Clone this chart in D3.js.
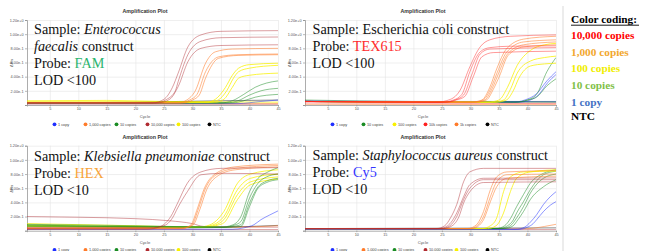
<!DOCTYPE html>
<html>
<head>
<meta charset="utf-8">
<script src="https://cdn.jsdelivr.net/npm/d3@7/dist/d3.min.js"></script>
<style>
  body { margin: 0; background: #fff; }
  svg { display: block; }
</style>
</head>
<body>
<div id="chart"></div>
<script>
// tick values and labels
var cycleTicks = [5, 10, 15, 20, 25, 30, 35, 40, 45];
var rnTicks = [0, 0.2, 0.4, 0.6, 0.8, 1.0, 1.2];
var rnLabels = ["", "2.00e-1", "4.00e-1", "6.00e-1", "8.00e-1", "1.00e+0", "1.20e+0"];

// panel texts
var speciesNames = ["Enterococcus faecalis", "Escherichia coli", "Klebsiella pneumoniae", "Staphylococcus aureus"];
var probes = ["FAM", "TEX615", "HEX", "Cy5"];
var lods = ["<100", "<100", "<10", "<10"];

// legends under each plot
var defaultLegend = [["c1", "1 copy"], ["c1k", "1,000 copies"], ["c10", "10 copies"], ["c10k", "10,000 copies"], ["c100", "100 copies"], ["ntc", "NTC"]];
var ecoliLegend = [["c1", "1 copy"], ["c10", "10 copies"], ["c100", "100 copies"], ["c10k", "10k copies"], ["c1k", "1k copies"], ["ntc", "NTC"]];
var codingLabels = ["10,000 copies", "1,000 copies", "100 copies", "10 copies", "1 copy", "NTC"];

// amplification curves: [cycle, Rn] points
var efaecalisCurves = [
  {g: "c10k", p: [[1,.015],[45,.01]]},
  {g: "c1k", p: [[1,.02],[45,.02]]},
  {g: "c100", p: [[1,.06],[15,.065],[25,.05],[45,.04]]},
  {g: "ntc", p: [[1,.03],[20,.04],[35,.06],[45,.07]]},
  {g: "c1", p: [[1,.02],[38,.02],[42,.05],[45,.07]]},
  {g: "c10", p: [[1,.03],[37,.03],[39,.06],[41,.11],[45,.15]]},
  {g: "c10", p: [[1,.03],[36,.03],[38,.06],[40,.14],[42,.2],[45,.235]]},
  {g: "c10", p: [[1,.03],[35,.03],[37,.06],[39,.15],[41,.25],[43,.31],[45,.34]]},
  {g: "c100", p: [[1,.04],[34,.04],[35.5,.08],[37,.25],[38.1,.38],[40,.42],[45,.45]]},
  {g: "c100", p: [[1,.04],[33,.04],[34.5,.07],[36,.2],[37.2,.38],[38.1,.47],[40,.52],[45,.56]]},
  {g: "c100", p: [[1,.04],[32.5,.04],[34,.08],[35.8,.25],[37,.42],[38.1,.52],[40,.57],[45,.59]]},
  {g: "c1k", p: [[1,.03],[28.5,.03],[30,.07],[31.2,.14],[32.3,.38],[34.6,.66],[38,.70],[45,.71]]},
  {g: "c1k", p: [[1,.03],[28,.03],[29.5,.07],[30.8,.15],[32.3,.47],[34.6,.68],[38,.71],[45,.72]]},
  {g: "c1k", p: [[1,.03],[27.5,.03],[29,.07],[30.5,.2],[32.3,.59],[34,.75],[37,.79],[45,.80]]},
  {g: "c10k", p: [[1,.03],[24,.03],[26,.08],[27.5,.26],[29.2,.61],[31.5,.80],[35,.84],[45,.85]]},
  {g: "c10k", p: [[1,.03],[23.5,.03],[25.5,.08],[27,.2],[27.5,.33],[29.2,.71],[31.5,.9],[35,.95],[45,.96]]},
  {g: "c10k", p: [[1,.03],[23,.03],[25,.08],[26.5,.25],[27.5,.45],[29.2,.82],[31.5,.99],[35,1.04],[45,1.05]]}
];

var ecoliCurves = [
  {g: "c1k", p: [[1,.01],[45,.005]]},
  {g: "c10k", p: [[1,.03],[45,.02]]},
  {g: "ntc", p: [[1,.05],[45,.04]]},
  {g: "c1", p: [[1,.06],[20,.05],[45,.05]]},
  {g: "c10", p: [[1,.07],[20,.05],[45,.045]]},
  {g: "c1", p: [[1,.05],[38.5,.04],[40.5,.07],[42,.15],[43.6,.32],[45,.43]]},
  {g: "c1", p: [[1,.05],[37.5,.04],[39.5,.07],[41.6,.16],[43.4,.34],[45,.47]]},
  {g: "c10", p: [[1,.05],[38,.04],[40,.07],[41.6,.11],[43.4,.27],[45,.37]]},
  {g: "c10", p: [[1,.05],[38,.04],[40,.07],[41.6,.15],[43.4,.47],[45,.67]]},
  {g: "c100", p: [[1,.05],[34.5,.04],[36.3,.07],[37.5,.2],[38.5,.38],[40.5,.55],[43,.58],[45,.59]]},
  {g: "c100", p: [[1,.05],[34,.04],[35.8,.07],[37,.22],[38.2,.45],[40.5,.62],[43,.67],[45,.69]]},
  {g: "c100", p: [[1,.05],[33,.04],[35,.07],[36.5,.25],[38.2,.56],[40.5,.77],[43,.85],[45,.87]]},
  {g: "c1k", p: [[1,.05],[31,.04],[32.8,.07],[34,.22],[35.1,.41],[36.6,.70],[39.3,.82],[45,.85]]},
  {g: "c1k", p: [[1,.05],[30.6,.04],[32.5,.07],[33.8,.23],[34.9,.44],[36.5,.72],[39.3,.85],[45,.89]]},
  {g: "c1k", p: [[1,.05],[30.3,.04],[32.2,.07],[33.6,.24],[34.7,.46],[36.3,.74],[39.3,.89],[45,.92]]},
  {g: "c1k", p: [[1,.05],[30,.04],[32,.07],[33.4,.25],[34.6,.51],[36.3,.79],[39.3,.93],[45,.97]]},
  {g: "c10k", p: [[1,.05],[26,.04],[27.5,.07],[29,.12],[30.5,.40],[32,.68],[34,.74],[45,.76]]},
  {g: "c10k", p: [[1,.05],[25.5,.04],[27.3,.07],[28.8,.14],[30.2,.42],[31.7,.72],[33.4,.79],[45,.81]]},
  {g: "c10k", p: [[1,.05],[25,.04],[27,.07],[28.5,.15],[29.9,.47],[31.7,.75],[33.4,.81],[37,.83],[45,.835]]},
  {g: "c10k", p: [[1,.05],[24,.04],[26.5,.08],[28.2,.21],[29.9,.54],[31.7,.82],[33.4,.92],[37,.97],[45,.99]]}
];

var kpneumoniaeCurves = [
  {g: "c10k", p: [[1,.02],[45,.015]]},
  {g: "c10k", p: [[1,.2],[10,.19],[20,.17],[26,.14],[30,.1],[32,.06],[45,.05]]},
  {g: "ntc", p: [[1,.03],[30,.04],[45,.075]]},
  {g: "c1k", p: [[1,.04],[38,.05],[45,.07]]},
  {g: "c1", p: [[1,.02],[37,.02],[39,.04],[40.8,.085],[42,.155],[43.5,.22],[45,.28]]},
  {g: "c100", p: [[1,.06],[32.5,.05],[34.5,.08],[35.5,.11],[37.9,.44],[40.2,.65],[45,.73]]},
  {g: "c100", p: [[1,.07],[32,.05],[34,.08],[35.5,.155],[37.9,.51],[40.2,.69],[45,.76]]},
  {g: "c100", p: [[1,.08],[31.5,.05],[33.5,.08],[35.5,.2],[37.9,.58],[40.2,.74],[45,.8]]},
  {g: "c100", p: [[1,.1],[20,.07],[31,.05],[33,.08],[35.5,.27],[37.9,.67],[40.2,.8],[45,.86]]},
  {g: "c10", p: [[1,.06],[36.5,.05],[38.5,.06],[40,.34],[41.5,.6],[43,.68],[45,.72]]},
  {g: "c10", p: [[1,.07],[36,.05],[37.8,.07],[38.5,.085],[40,.39],[41.5,.62],[43,.7],[45,.74]]},
  {g: "c10", p: [[1,.08],[35.5,.05],[37.4,.08],[38.5,.13],[40,.46],[41.5,.67],[43,.76],[45,.8]]},
  {g: "c10", p: [[1,.09],[20,.07],[35,.05],[37,.08],[38.5,.2],[40,.55],[41.5,.74],[43,.82],[45,.89]]},
  {g: "c1k", p: [[1,.04],[28.4,.04],[30.1,.08],[31.3,.3],[32.5,.58],[34.2,.76],[37.5,.86],[45,.90]]},
  {g: "c1k", p: [[1,.03],[28.2,.03],[29.9,.08],[31.1,.32],[32.3,.6],[34,.78],[37.5,.88],[45,.92]]},
  {g: "c1k", p: [[1,.03],[28,.03],[29.7,.08],[30.9,.32],[32.1,.6],[33.8,.79],[37.3,.9],[45,.94]]},
  {g: "c10k", p: [[1,.04],[22.5,.04],[25,.07],[26.5,.18],[27.4,.32],[29.1,.55],[31.5,.79],[35,.81],[45,.80]]},
  {g: "c10k", p: [[1,.02],[22,.02],[24.4,.06],[26.2,.2],[27.4,.39],[29.1,.67],[31.5,.83],[35,.88],[45,.89]]}
];

var saureusCurves = [
  {g: "c10k", p: [[1,.02],[45,.015]]},
  {g: "ntc", p: [[1,.03],[45,.04]]},
  {g: "c1k", p: [[1,.02],[40,.03],[43,.06],[45,.09]]},
  {g: "c1", p: [[1,.02],[38.5,.02],[40,.05],[41,.1],[41.6,.155],[42.8,.27],[44,.36],[45,.41]]},
  {g: "c1", p: [[1,.02],[38,.02],[39.5,.05],[40.5,.12],[41.6,.225],[42.8,.37],[44,.48],[45,.55]]},
  {g: "c10", p: [[1,.03],[36,.03],[37.5,.07],[38.1,.13],[39.3,.27],[40.5,.44],[42.8,.62],[45,.72]]},
  {g: "c10", p: [[1,.03],[35.5,.03],[37,.07],[38.1,.18],[39.3,.34],[40.5,.53],[42.8,.74],[45,.8]]},
  {g: "c10", p: [[1,.03],[35,.03],[36.5,.07],[37.5,.15],[38.1,.25],[39.3,.41],[40.5,.58],[42.8,.79],[45,.84]]},
  {g: "c10", p: [[1,.03],[34.5,.03],[36,.07],[37,.17],[38.1,.34],[39.3,.51],[40.5,.67],[42.8,.81],[45,.86]]},
  {g: "c100", p: [[1,.03],[33,.03],[34.5,.07],[35.8,.25],[37,.55],[38.1,.74],[40.5,.83],[45,.86]]},
  {g: "c100", p: [[1,.03],[32,.03],[33.5,.07],[34.6,.18],[35.8,.55],[37,.76],[39.3,.83],[45,.84]]},
  {g: "c1k", p: [[1,.03],[30.3,.03],[31.6,.08],[32.3,.155],[33.5,.41],[34.6,.62],[36.4,.74],[45,.77]]},
  {g: "c1k", p: [[1,.03],[30,.03],[31.3,.08],[32.3,.2],[33.5,.48],[34.6,.69],[36.4,.79],[45,.8]]},
  {g: "c1k", p: [[1,.03],[29.5,.03],[31,.08],[32.3,.27],[33.5,.58],[34.6,.76],[36.4,.83],[45,.85]]},
  {g: "c10k", p: [[1,.03],[25.3,.03],[26.8,.07],[28,.2],[28.8,.39],[29.9,.55],[32.3,.68],[45,.69]]},
  {g: "c10k", p: [[1,.03],[25,.03],[26.4,.07],[27.6,.2],[28.8,.44],[29.9,.6],[32.3,.72],[45,.72]]},
  {g: "c10k", p: [[1,.03],[24.5,.03],[26,.07],[27.6,.25],[28.8,.48],[29.9,.65],[32.3,.74],[45,.745]]},
  {g: "c10k", p: [[1,.03],[24,.03],[25.5,.07],[26.5,.18],[27.6,.37],[28.8,.69],[29.9,.83],[32.3,.88],[45,.88]]}
];

// colours
var groupKeys = ["c10k", "c1k", "c100", "c10", "c1", "ntc"];
var markColor = d3.scaleOrdinal().domain(groupKeys)
  .range(["#b02a30", "#ff7b2a", "#f8f000", "#1a8c24", "#2030ff", "#000000"]);
var markColorEcoli = d3.scaleOrdinal().domain(groupKeys)
  .range(["#ff2020", "#ff7b2a", "#f8f000", "#1a8c24", "#2030ff", "#000000"]);
var lineOpacity = {c10k: 0.45, c1k: 0.55, c100: 0.75, c10: 0.5, c1: 0.5, ntc: 0.45};
var codingColor = d3.scaleOrdinal().domain(codingLabels)
  .range(["#ff0000", "#f2a72e", "#f0ee00", "#7fbf48", "#4472c4", "#000000"]);

var W = 647, H = 251, plotW = 251, plotH = 85;

var svg = d3.select("#chart").append("svg")
  .attr("width", W).attr("height", H)
  .style("font-family", "'Liberation Sans', Arial, sans-serif");

var panels = [
  {left: 27, top: 20, curves: efaecalisCurves, legend: defaultLegend, color: markColor, k: 0,
   probeColor: "#2bb56d", italic: true, wrap: true, textX: 34, textY: 34.3},
  {left: 305, top: 20, curves: ecoliCurves, legend: ecoliLegend, color: markColorEcoli, k: 1,
   probeColor: "#ff2b2b", italic: false, wrap: false, textX: 312.5, textY: 34.3},
  {left: 27, top: 145.7, curves: kpneumoniaeCurves, legend: defaultLegend, color: markColor, k: 2,
   probeColor: "#f7a43a", italic: true, wrap: false, textX: 34, textY: 161},
  {left: 305, top: 145.7, curves: saureusCurves, legend: defaultLegend, color: markColor, k: 3,
   probeColor: "#3535ff", italic: true, wrap: false, textX: 312.5, textY: 160}
];

panels.forEach(function(P, pi) {
  var x = d3.scaleLinear().domain([1, 45]).range([P.left, P.left + plotW]);
  var y = d3.scaleLinear().domain([0, 1.2]).range([P.top + plotH, P.top]);
  var g = svg.append("g");
  var cx = P.left + 118;

  // grid
  g.append("g")
    .attr("transform", "translate(0," + (P.top + plotH) + ")")
    .call(d3.axisBottom(x).tickValues(cycleTicks).tickSize(-plotH).tickFormat(""))
    .call(function(s) { s.select(".domain").remove(); })
    .selectAll("line").attr("stroke", "#e4e4e4").attr("stroke-width", 0.6);
  g.append("g")
    .attr("transform", "translate(" + P.left + ",0)")
    .call(d3.axisLeft(y).tickValues(rnTicks.slice(1)).tickSize(-plotW).tickFormat(""))
    .call(function(s) { s.select(".domain").remove(); })
    .selectAll("line").attr("stroke", "#e4e4e4").attr("stroke-width", 0.6);

  // axes
  var ax = g.append("g")
    .attr("transform", "translate(0," + (P.top + plotH) + ")")
    .call(d3.axisBottom(x).tickValues(cycleTicks).tickSize(1.5).tickPadding(1));
  var ay = g.append("g")
    .attr("transform", "translate(" + P.left + ",0)")
    .call(d3.axisLeft(y).tickValues(rnTicks).tickSize(2).tickPadding(1.5)
      .tickFormat(function(d, i) { return rnLabels[i]; }));
  [ax, ay].forEach(function(a) {
    a.select(".domain").attr("stroke", "#8a8a8a").attr("stroke-width", 0.7);
    a.selectAll(".tick line").attr("stroke", "#8a8a8a").attr("stroke-width", 0.6);
    a.selectAll("text").attr("font-size", 3.8).attr("fill", "#555").attr("font-family", null);
  });

  // curves
  var clipId = "clip" + pi;
  g.append("clipPath").attr("id", clipId).append("rect")
    .attr("x", P.left).attr("y", P.top - 2).attr("width", plotW).attr("height", plotH + 2);
  var line = d3.line()
    .x(function(d) { return x(d[0]); })
    .y(function(d) { return y(d[1]); })
    .curve(d3.curveMonotoneX);
  g.append("g").attr("clip-path", "url(#" + clipId + ")")
    .selectAll("path")
    .data(P.curves)
    .enter()
    .append("path")
    .attr("d", function(d) { return line(d.p); })
    .attr("fill", "none")
    .attr("stroke", function(d) { return P.color(d.g); })
    .attr("stroke-opacity", function(d) { return lineOpacity[d.g]; })
    .attr("stroke-width", 1);

  // titles
  g.append("text").attr("x", cx).attr("y", P.top - 7)
    .attr("text-anchor", "middle").attr("font-size", 5.3).attr("font-weight", "bold")
    .attr("fill", "#333").text("Amplification Plot");
  g.append("text").attr("x", cx).attr("y", P.top + 98.3)
    .attr("text-anchor", "middle").attr("font-size", 4.2).attr("fill", "#555").text("Cycle");
  g.append("text")
    .attr("transform", "translate(" + (P.left - 14.5) + "," + (P.top + 43) + ") rotate(-90)")
    .attr("text-anchor", "middle").attr("font-size", 4).attr("fill", "#555").text("ΔRn");

  // legend row
  var lg = g.selectAll(".lg").data(P.legend).enter().append("g")
    .attr("transform", function(d, i) { return "translate(" + (P.left + 27.5 + i * 31) + "," + (P.top + 104.3) + ")"; });
  lg.append("circle").attr("r", 1.9).attr("fill", function(d) { return P.color(d[0]); });
  lg.append("text").attr("x", 3.5).attr("y", 1.4).attr("font-size", 3.8).attr("fill", "#444")
    .text(function(d) { return d[1]; });

  // annotation
  var name = speciesNames[P.k];
  var words = name.split(" ");
  var lines = [];
  if (P.wrap) {
    lines.push([["Sample: ", null], [words[0], "sp"]]);
    lines.push([[words.slice(1).join(" "), "sp"], [" construct", null]]);
  } else {
    lines.push([["Sample: ", null], [name, "sp"], [" construct", null]]);
  }
  lines.push([["Probe: ", null], [probes[P.k], "probe"]]);
  lines.push([["LOD " + lods[P.k], null]]);

  var ann = g.append("text")
    .attr("font-family", "'Liberation Serif', 'Times New Roman', serif")
    .attr("font-size", 14.2).attr("fill", "#111");
  lines.forEach(function(segs, li) {
    segs.forEach(function(s, si) {
      var t = ann.append("tspan").text(s[0]).style("white-space", "pre");
      if (si === 0) t.attr("x", P.textX).attr("y", P.textY + li * 17);
      if (s[1] === "sp" && P.italic) t.attr("font-style", "italic");
      if (s[1] === "probe") t.attr("fill", P.probeColor);
    });
  });
});

// separator
svg.append("line").attr("x1", 563).attr("x2", 563).attr("y1", 6).attr("y2", H)
  .attr("stroke", "#cfcfcf").attr("stroke-width", 0.8);

// colour coding key
var key = svg.append("g")
  .attr("font-family", "'Liberation Serif', 'Times New Roman', serif")
  .attr("font-weight", "bold").attr("font-size", 11.3);
key.append("text").attr("x", 571).attr("y", 23.3).attr("fill", "#000").text("Color coding:");
key.append("line").attr("x1", 571).attr("x2", 639).attr("y1", 25.2).attr("y2", 25.2)
  .attr("stroke", "#000").attr("stroke-width", 0.9);
key.selectAll(".kt").data(codingLabels).enter().append("text")
  .attr("x", 571)
  .attr("y", function(d, i) { return i < 5 ? 39 + i * 16.67 : 120; })
  .attr("fill", function(d) { return codingColor(d); })
  .text(function(d) { return d; });
</script>
</body>
</html>
